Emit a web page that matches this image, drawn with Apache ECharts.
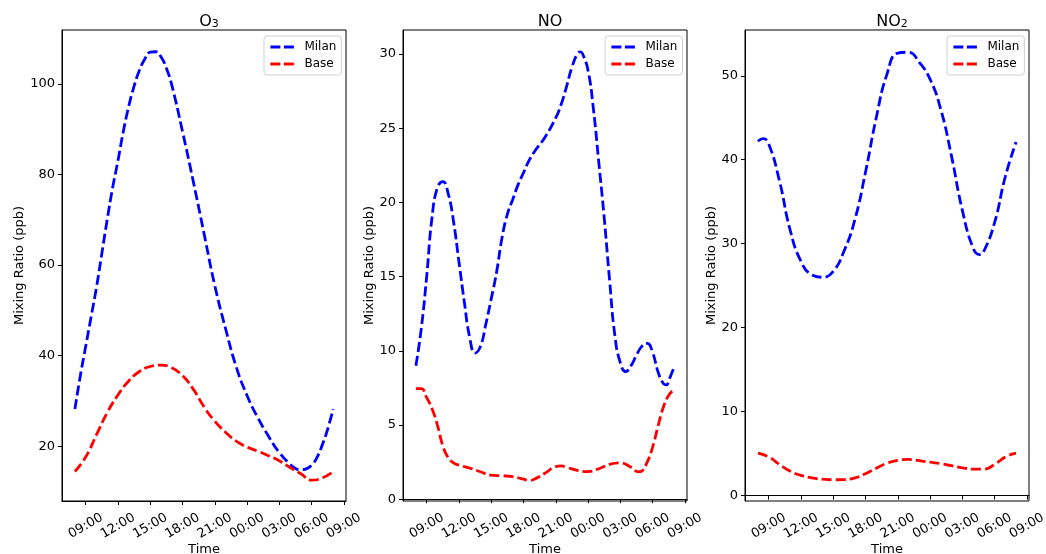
<!DOCTYPE html>
<html><head><meta charset="utf-8">
<script src="https://cdn.jsdelivr.net/npm/echarts@6/dist/echarts.min.js"></script>
<style>html,body{margin:0;padding:0;background:#fff}#c{width:1046px;height:554px}</style>
</head><body><div id="c"></div>
<script>
// Time in hours since midnight of first day (24 = 00:00 next day)
const tickHours = [9, 12, 15, 18, 21, 24, 27, 30, 33];
const tickLabels = ['09:00', '12:00', '15:00', '18:00', '21:00', '00:00', '03:00', '06:00', '09:00'];
const o3Ticks = [20, 40, 60, 80, 100];
const noTicks = [0, 5, 10, 15, 20, 25, 30];
const no2Ticks = [0, 10, 20, 30, 40, 50];

const o3Milan = [[8,28.2],[8.5,35.5],[9,42],[9.5,48.5],[10,55],[10.5,62.5],[11,70],[11.5,77],[12,83],[12.5,89.5],[13,95],[13.5,99.5],[14,103],[14.5,105.5],[15,107],[15.5,107.1],[16,106],[16.5,103.5],[17,99.8],[18,89.5],[19,78.5],[20,67],[21,55.5],[22,46],[23,37.5],[24,31.2],[25,26.3],[26,22.2],[27,18.6],[28,16],[28.5,15.1],[29,14.8],[29.5,15.0],[30,15.8],[30.5,17.5],[31,20.3],[31.5,23.8],[32,28.2]];
const o3Base = [[8,14.4],[9,17.6],[10,22.5],[11,27.4],[12,31.3],[13,34.4],[14,36.5],[15,37.6],[16,37.9],[17,37.3],[18,35.6],[19,32.6],[20,28.7],[21,25.5],[22,23.1],[23,21.1],[24,19.8],[25,18.9],[26,17.9],[27,16.8],[28,15.3],[29,13.9],[30,12.5],[31,13.0],[32,14.4]];

const noMilan = [[8,9.0],[8.5,11.5],[9,15.0],[9.5,19.0],[10,21.0],[10.5,21.4],[11,20.6],[11.5,18.7],[12,16.0],[12.5,13.3],[13,10.9],[13.5,9.85],[14,10.3],[14.5,11.8],[15,13.5],[15.5,15.3],[16,17.6],[16.5,19.2],[17,20.2],[17.5,21.2],[18,22.0],[18.5,22.8],[19,23.4],[20,24.4],[21,25.7],[21.5,26.6],[22,27.8],[22.5,29.1],[23,30.0],[23.3,30.15],[23.5,30.0],[24,28.9],[24.5,26.3],[25,22.7],[25.5,19.0],[26,14.8],[26.5,11.0],[27,9.2],[27.5,8.6],[28,9.0],[28.5,9.7],[29,10.3],[29.5,10.5],[30,9.9],[30.5,8.6],[31,7.8],[31.3,7.7],[31.5,8.0],[32,8.9]];
const noBase = [[8,7.45],[8.5,7.45],[9,6.85],[9.5,6.1],[10,5.0],[10.5,3.6],[11,2.8],[11.5,2.45],[12,2.3],[13,2.1],[14,1.85],[15,1.62],[16,1.58],[17,1.52],[18,1.35],[18.5,1.27],[19,1.35],[20,1.75],[21,2.2],[21.5,2.25],[22,2.15],[23,1.95],[24,1.86],[25,2.05],[26,2.35],[27,2.45],[28,2.15],[28.7,1.85],[29,1.9],[29.5,2.5],[30,3.5],[30.5,4.9],[31,6.2],[31.5,7.0],[32,7.4]];

const no2Milan = [[8,42.2],[8.5,42.5],[9,41.9],[10,37.5],[11,31.6],[12,27.9],[13,26.3],[14,26.0],[15,26.7],[16,29.1],[17,32.8],[18,38.5],[19,45.0],[20,50.2],[21,52.7],[22,52.8],[23,51.6],[24,49.6],[25,46.0],[26,40.4],[27,34.0],[28,29.5],[28.6,28.7],[29,29.1],[30,32.5],[31,38.0],[32,42.1]];
const no2Base = [[8,5.05],[9,4.6],[10,3.7],[11,2.9],[12,2.4],[13,2.1],[14,1.95],[15,1.88],[16,1.9],[17,2.1],[18,2.6],[19,3.25],[20,3.85],[21,4.2],[22,4.3],[23,4.15],[24,3.97],[25,3.8],[26,3.55],[27,3.3],[28,3.15],[29,3.15],[30,3.7],[31,4.6],[32,5.05]];

const FONT = 'DejaVu Sans';
const panels = [
  {title: '{a|O}{b|3}', yMin: 7.9, yMax: 111.9, ticks: o3Ticks, milan: o3Milan, base: o3Base, left: 62, nameGap: 36},
  {title: '{a|NO}', yMin: -0.12, yMax: 31.62, ticks: noTicks, milan: noMilan, base: noBase, left: 403, nameGap: 27},
  {title: '{a|NO}{b|2}', yMin: -0.65, yMax: 55.45, ticks: no2Ticks, milan: no2Milan, base: no2Base, left: 745, nameGap: 27}
];
const W = 284;

const grids = [], xAxes = [], yAxes = [], series = [], titles = [], legends = [];
panels.forEach((p, i) => {
  grids.push({left: p.left, top: 30, width: W, height: 471, show: true, borderColor: '#000', borderWidth: 1,
    containLabel: false, outerBoundsMode: 'none'});
  xAxes.push({
    type: 'value', gridIndex: i, min: 6.8, max: 33.2,
    name: 'Time', nameLocation: 'middle', nameGap: 42, nameMoveOverlap: false,
    nameTextStyle: {fontFamily: FONT, fontSize: 13, color: '#000'},
    axisLine: {show: true, lineStyle: {color: '#000', width: 1}},
    axisTick: {show: true, length: 4, customValues: tickHours, lineStyle: {color: '#000', width: 1}},
    axisLabel: {
      customValues: tickHours, rotate: 30, align: 'center', verticalAlign: 'middle', margin: 25,
      fontFamily: FONT, fontSize: 13, color: '#000',
      formatter: v => { const k = tickHours.indexOf(v); return k >= 0 ? tickLabels[k] : ''; }
    },
    splitLine: {show: false}
  });
  yAxes.push({
    type: 'value', gridIndex: i, min: p.yMin, max: p.yMax,
    name: 'Mixing Ratio (ppb)', nameLocation: 'middle', nameGap: p.nameGap, nameMoveOverlap: false,
    nameTextStyle: {fontFamily: FONT, fontSize: 13, color: '#000'},
    axisLine: {show: true, lineStyle: {color: '#000', width: 1}},
    axisTick: {show: true, length: 4, customValues: p.ticks, lineStyle: {color: '#000', width: 1}},
    axisLabel: {customValues: p.ticks, margin: 7, fontFamily: FONT, fontSize: 13, color: '#000'},
    splitLine: {show: false}
  });
  series.push({
    name: 'Milan', type: 'line', xAxisIndex: i, yAxisIndex: i, data: p.milan,
    smooth: 0.5, symbol: 'none', color: '#0000ff',
    lineStyle: {color: '#0000ff', width: 2.8, type: [10, 4]}
  });
  series.push({
    name: 'Base', type: 'line', xAxisIndex: i, yAxisIndex: i, data: p.base,
    smooth: 0.5, symbol: 'none', color: '#ff0000',
    lineStyle: {color: '#ff0000', width: 2.8, type: [10, 4]}
  });
  titles.push({
    text: p.title, left: p.left + W / 2, top: 5, textAlign: 'center',
    textStyle: {fontWeight: 'normal', rich: {
      a: {fontFamily: FONT, fontSize: 16, fontWeight: 'normal', color: '#000', lineHeight: 20, verticalAlign: 'bottom'},
      b: {fontFamily: FONT, fontSize: 11, fontWeight: 'normal', color: '#000', lineHeight: 10, verticalAlign: 'bottom'}
    }}
  });
  legends.push({
    data: ['Milan', 'Base'], orient: 'vertical', left: p.left + W - 82, top: 36,
    itemWidth: 24, itemHeight: 14, itemGap: 5, padding: [5, 5, 5, 5],
    borderColor: '#d0d0d0', borderWidth: 1, borderRadius: 3, backgroundColor: 'rgba(255,255,255,0.8)',
    selectedMode: false, align: 'left',
    itemStyle: {opacity: 0},
    lineStyle: {type: [10, 3.5], width: 2.8},
    textStyle: {fontFamily: FONT, fontSize: 12, color: '#000', padding: [0, 0, 0, 5]}
  });
});

const chart = echarts.init(document.getElementById('c'), null, {renderer: 'canvas'});
chart.setOption({
  animation: false, backgroundColor: '#fff',
  title: titles, legend: legends, grid: grids, xAxis: xAxes, yAxis: yAxes, series: series
});
</script></body></html>
